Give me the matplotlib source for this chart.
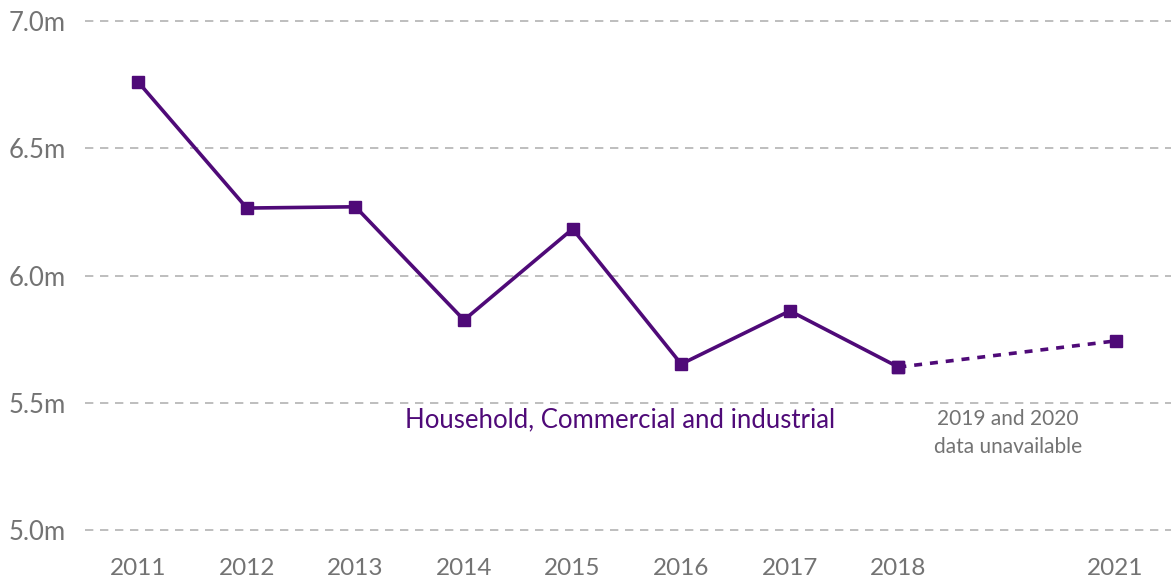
import matplotlib.pyplot as plt

plt.rc("font", family=["Lato", "DejaVu Sans"])

years = ["2011", "2012", "2013", "2014", "2015", "2016", "2017", "2018", "2021"]
positions = [0, 1, 2, 3, 4, 5, 6, 7, 9]
values = [6.76, 6.265, 6.27, 5.825, 6.183, 5.652, 5.861, 5.640, 5.743]
yticks = [5.0, 5.5, 6.0, 6.5, 7.0]
ytick_labels = ["5.0m", "5.5m", "6.0m", "6.5m", "7.0m"]

purple = "#4f0a78"
grey = "#737373"

fig = plt.figure(figsize=(11.71, 5.79), dpi=100)
ax = fig.add_axes([85 / 1171, 49 / 579, 1086 / 1171, 509 / 579])

# gridlines
for yv in yticks:
    ax.axhline(yv, color="#b3b3b3", linestyle=(0, (5, 4)), linewidth=1.2, clip_on=False, zorder=1)

# solid part 2011-2018, dashed 2018-2021
ax.plot(positions[:8], values[:8], color=purple, linewidth=2.6, marker="s",
        markersize=9, zorder=3)
ax.plot(positions[7:], values[7:], color=purple, linewidth=2.6, linestyle=(0, (2.2, 2.2)),
        marker="s", markersize=9, zorder=3)

ax.text(4.44, 5.432, "Household, Commercial and industrial", color=purple,
        fontsize=18.5, ha="center", va="center")
ax.text(8.01, 5.381, "2019 and 2020\ndata unavailable", color=grey,
        fontsize=15, ha="center", va="center", linespacing=1.45)

ax.set_xlim(-0.49, 9.51)
ax.set_ylim(5.0, 7.0)
ax.set_xticks(positions, years)
ax.set_yticks(yticks, ytick_labels)
ax.tick_params(length=0, labelsize=17.5, labelcolor=grey)
ax.tick_params(axis="y", labelsize=18.5, pad=14)
ax.tick_params(axis="x", pad=20)
for s in ax.spines.values():
    s.set_visible(False)

fig.savefig("out.png", dpi=100)
